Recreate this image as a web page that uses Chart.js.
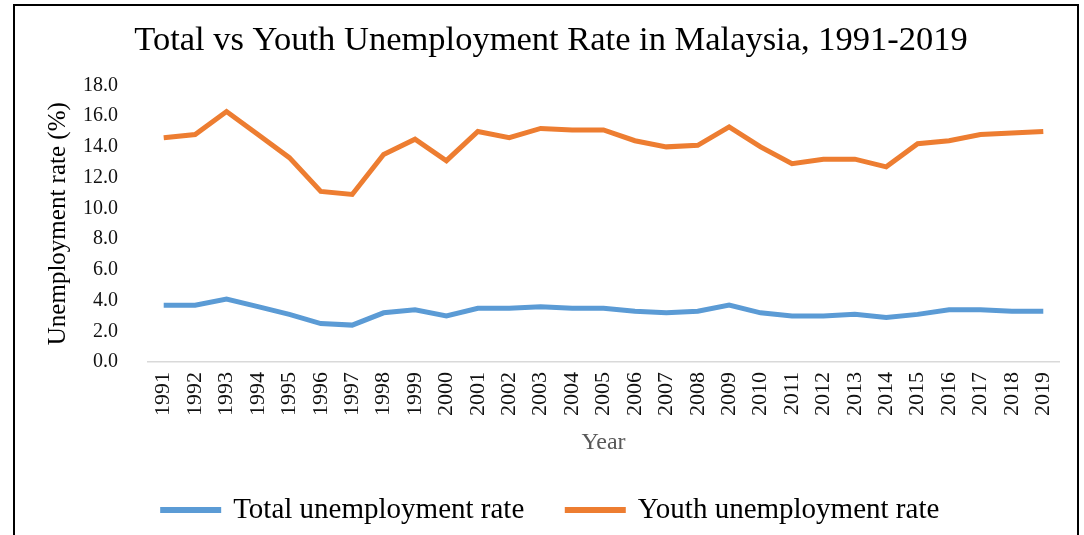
<!DOCTYPE html>
<html>
<head>
<meta charset="utf-8">
<script src="https://cdn.jsdelivr.net/npm/chart.js@4"></script>
<style>
    body { margin: 0; background: #fff; }
    .frame { position: absolute; left: 13px; top: 4px; width: 1062px; height: 540px; border: 2px solid #000; }
    #chart { position: absolute; left: 0; top: 0; }
</style>
</head>
<body>
<div class="frame"></div>
<canvas id="chart" width="1084" height="535"></canvas>
<script>
// Jahre (Kategorien)
const years = ["1991", "1992", "1993", "1994", "1995", "1996", "1997", "1998", "1999", "2000",
    "2001", "2002", "2003", "2004", "2005", "2006", "2007", "2008", "2009", "2010",
    "2011", "2012", "2013", "2014", "2015", "2016", "2017", "2018", "2019"];

// Werte (%)
const totalRate = [3.7, 3.7, 4.1, 3.6, 3.1, 2.5, 2.4, 3.2, 3.4, 3.0,
    3.5, 3.5, 3.6, 3.5, 3.5, 3.3, 3.2, 3.3, 3.7, 3.2,
    3.0, 3.0, 3.1, 2.9, 3.1, 3.4, 3.4, 3.3, 3.3];
const youthRate = [14.6, 14.8, 16.3, 14.8, 13.3, 11.1, 10.9, 13.5, 14.5, 13.1,
    15.0, 14.6, 15.2, 15.1, 15.1, 14.4, 14.0, 14.1, 15.3, 14.0,
    12.9, 13.2, 13.2, 12.7, 14.2, 14.4, 14.8, 14.9, 15.0];

const serif = "'Liberation Serif', 'Times New Roman', serif";

new Chart(document.getElementById("chart"), {
    type: "line",
    data: {
        labels: years,
        datasets: [
            {
                label: "Total unemployment rate",
                data: totalRate,
                borderColor: "#5B9BD5",
                backgroundColor: "#5B9BD5",
                borderWidth: 5,
                pointRadius: 0,
                tension: 0,
            },
            {
                label: "Youth unemployment rate",
                data: youthRate,
                borderColor: "#ED7D31",
                backgroundColor: "#ED7D31",
                borderWidth: 5,
                pointRadius: 0,
                tension: 0,
            },
        ],
    },
    options: {
        responsive: false,
        animation: false,
        layout: { padding: { left: 43, right: 25, top: 14, bottom: 0.5 } },
        plugins: {
            title: {
                display: true,
                text: "Total vs Youth Unemployment Rate in Malaysia, 1991-2019",
                color: "#000",
                font: { family: serif, size: 34.5, weight: "normal" },
                padding: { top: 6, bottom: 24 },
            },
            legend: {
                position: "bottom",
                labels: {
                    color: "#000",
                    font: { family: serif, size: 29 },
                    boxWidth: 56,
                    boxHeight: 1,
                    padding: 43,
                },
            },
            tooltip: { enabled: false },
        },
        scales: {
            x: {
                offset: true,
                grid: { display: false },
                border: { display: true, color: "#d9d9d9", width: 1.5 },
                ticks: {
                    color: "#111",
                    font: { family: serif, size: 22 },
                    minRotation: 90,
                    maxRotation: 90,
                    autoSkip: false,
                    padding: 2,
                },
                title: {
                    display: true,
                    text: "Year",
                    color: "#595959",
                    font: { family: serif, size: 24 },
                    padding: { top: 10.6, bottom: -4.9 }, // negativ, sonst rutscht "Year" zu weit hoch
                },
            },
            y: {
                min: 0,
                max: 18,
                grid: { display: false },
                border: { display: false },
                ticks: {
                    stepSize: 2,
                    color: "#111",
                    font: { family: serif, size: 20 },
                    padding: 22,
                    callback: (value) => value.toFixed(1),
                },
                title: {
                    display: true,
                    text: "Unemployment rate (%)",
                    color: "#000",
                    font: { family: serif, size: 25 },
                    padding: { top: 0, bottom: -12 },
                },
            },
        },
    },
});
</script>
</body>
</html>
